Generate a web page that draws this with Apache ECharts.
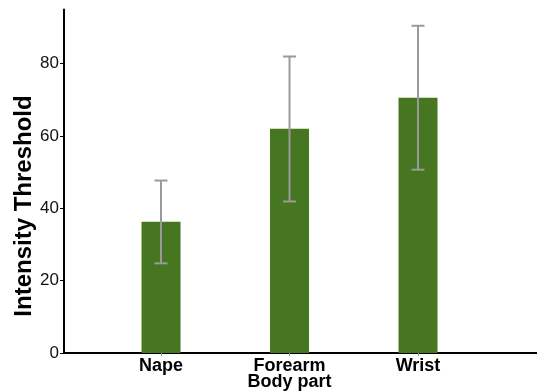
<!DOCTYPE html>
<html>
<head>
<meta charset="utf-8">
<script src="https://cdn.jsdelivr.net/npm/echarts@6/dist/echarts.min.js"></script>
<style>html,body{margin:0;padding:0;background:#fff}#c{width:537px;height:391px}</style>
</head>
<body>
<div id="c"></div>
<script>
const categories = ['Nape', 'Forearm', 'Wrist'];
const means = [36.3, 62.0, 70.6];
const lower = [24.8, 41.9, 50.7];
const upper = [47.7, 82.0, 90.5];
const yTicks = [0, 20, 40, 60, 80];
const xTitle = 'Body part';
const yTitle = 'Intensity Threshold';

const chart = echarts.init(document.getElementById('c'), null, {renderer: 'canvas'});
const catIdx = categories.map((c, i) => i);
const font = 'Liberation Sans, Arial, Helvetica, sans-serif';

chart.setOption({
  animation: false,
  backgroundColor: '#fff',
  grid: {left: 64, right: 0, top: 9.5, bottom: 38, containLabel: false},
  xAxis: {
    type: 'value',
    min: -0.755,
    max: 2.926,
    axisLine: {show: true, onZero: false, lineStyle: {color: '#000', width: 2}},
    axisTick: {show: true, customValues: catIdx, length: 3, lineStyle: {color: '#999', width: 1}},
    axisLabel: {
      customValues: catIdx,
      formatter: v => categories[Math.round(v)],
      color: '#000', fontFamily: font, fontWeight: 'bold', fontSize: 18, margin: 4
    },
    splitLine: {show: false}
  },
  yAxis: {
    type: 'value',
    min: 0,
    max: 95,
    axisLine: {show: true, onZero: false, lineStyle: {color: '#000', width: 2}},
    axisTick: {show: true, customValues: yTicks, length: 4, lineStyle: {color: '#000', width: 1}},
    axisLabel: {customValues: yTicks, color: '#111', fontFamily: font, fontSize: 17, margin: 5},
    splitLine: {show: false}
  },
  graphic: [
    {type: 'text', x: 24.7, y: 206, rotation: Math.PI / 2,
      style: {text: yTitle, fill: '#000', font: 'bold 24px ' + font, textAlign: 'center', textVerticalAlign: 'middle'}},
    {type: 'text', x: 289.5, y: 382.5,
      style: {text: xTitle, fill: '#000', font: 'bold 18px ' + font, textAlign: 'center', textVerticalAlign: 'middle'}}
  ],
  series: [
    {
      type: 'bar',
      data: catIdx.map(i => [i, means[i]]),
      barWidth: 39,
      itemStyle: {color: '#46761F'}
    },
    {
      type: 'custom',
      data: catIdx.map(i => [i, lower[i], upper[i]]),
      z: 10,
      renderItem: function (params, api) {
        const x = api.value(0);
        const lo = api.coord([x, api.value(1)]);
        const hi = api.coord([x, api.value(2)]);
        const hw = 6.5;
        const st = {stroke: '#9a9a9a', lineWidth: 2};
        return {
          type: 'group',
          children: [
            {type: 'line', shape: {x1: lo[0], y1: lo[1], x2: hi[0], y2: hi[1]}, style: st},
            {type: 'line', shape: {x1: lo[0] - hw, y1: lo[1], x2: lo[0] + hw, y2: lo[1]}, style: st},
            {type: 'line', shape: {x1: hi[0] - hw, y1: hi[1], x2: hi[0] + hw, y2: hi[1]}, style: st}
          ]
        };
      }
    }
  ]
});
</script>
</body>
</html>
